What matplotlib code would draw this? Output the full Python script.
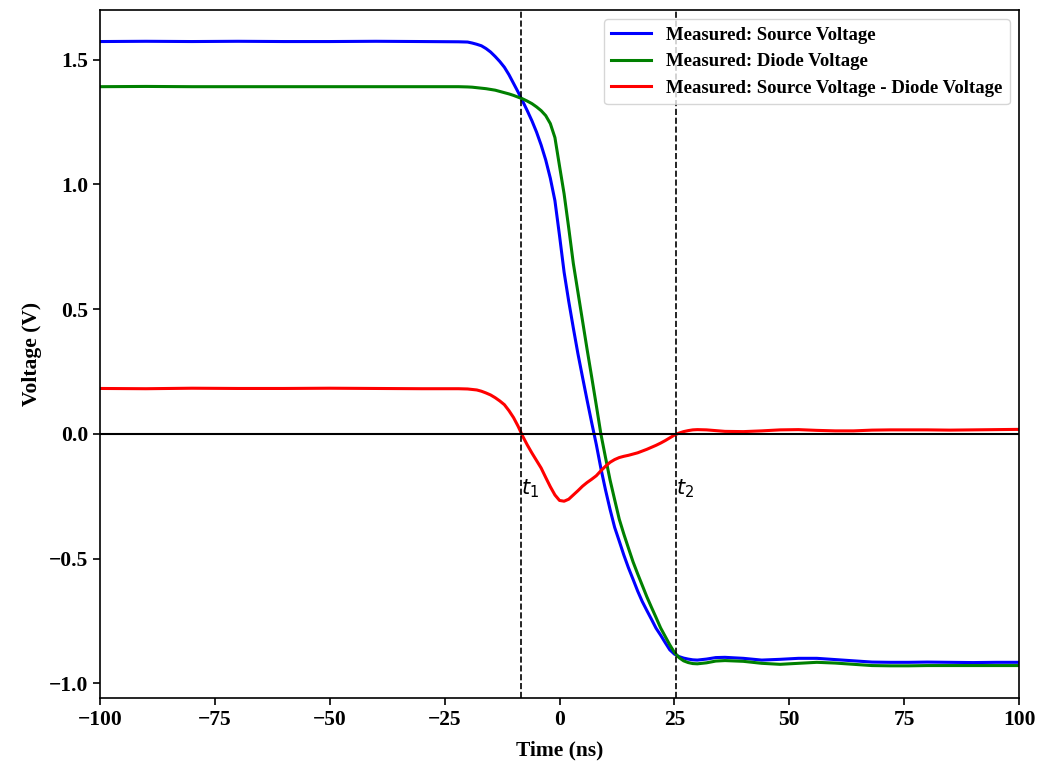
import numpy as np
import matplotlib
matplotlib.use("Agg")
import matplotlib.pyplot as plt

# Time axis (ns): coarse on the flat parts, 1 ns through the switching transient
time_ns = ([-100, -90, -80, -70, -60, -50, -40, -30, -22]
           + list(range(-20, 31))
           + [32, 34, 36, 40, 44, 48, 52, 56, 60, 64, 68, 72, 76, 80, 85, 90, 95, 100])

source_v = [1.573, 1.574, 1.573, 1.574, 1.573, 1.573, 1.574, 1.573, 1.572,
            1.571, 1.567, 1.562, 1.556, 1.545, 1.531, 1.513, 1.493, 1.470, 1.440,
            1.405, 1.370, 1.333, 1.295, 1.255, 1.210, 1.158, 1.098, 1.025, 0.935,
            0.795, 0.648, 0.532, 0.425, 0.322, 0.228, 0.135, 0.045, -0.042, -0.138,
            -0.224, -0.303, -0.375, -0.430, -0.486, -0.537, -0.583, -0.630, -0.672, -0.708,
            -0.743, -0.779, -0.807, -0.837, -0.866, -0.883, -0.893, -0.899, -0.903, -0.906,
            -0.907,
            -0.903, -0.897, -0.896, -0.900, -0.907, -0.904, -0.900, -0.900, -0.905,
            -0.910, -0.915, -0.916, -0.916, -0.915, -0.916, -0.917, -0.916, -0.916]

diode_v = [1.392, 1.393, 1.392, 1.392, 1.392, 1.392, 1.392, 1.392, 1.392,
           1.391, 1.390, 1.388, 1.386, 1.384, 1.381, 1.378, 1.373, 1.368, 1.363,
           1.357, 1.350, 1.343, 1.334, 1.324, 1.311, 1.296, 1.276, 1.244, 1.188,
           1.074, 0.962, 0.826, 0.684, 0.569, 0.454, 0.339, 0.228, 0.115, 0.000,
           -0.094, -0.185, -0.264, -0.342, -0.402, -0.458, -0.513, -0.561, -0.607, -0.653,
           -0.695, -0.736, -0.778, -0.812, -0.846, -0.876, -0.897, -0.910, -0.917, -0.921,
           -0.922,
           -0.918, -0.911, -0.909, -0.912, -0.920, -0.924, -0.920, -0.916, -0.919,
           -0.924, -0.929, -0.930, -0.930, -0.929, -0.929, -0.929, -0.929, -0.929]

diff_v = [0.182, 0.181, 0.183, 0.182, 0.182, 0.183, 0.182, 0.181, 0.181,
          0.180, 0.178, 0.176, 0.171, 0.164, 0.156, 0.145, 0.132, 0.117, 0.093,
          0.065, 0.030, -0.010, -0.045, -0.077, -0.107, -0.137, -0.175, -0.212, -0.245,
          -0.267, -0.270, -0.262, -0.245, -0.228, -0.210, -0.195, -0.182, -0.168, -0.148,
          -0.130, -0.114, -0.103, -0.095, -0.090, -0.086, -0.081, -0.076, -0.069, -0.062,
          -0.054, -0.046, -0.037, -0.027, -0.016, -0.005, 0.003, 0.009, 0.013, 0.016,
          0.017,
          0.016, 0.013, 0.010, 0.009, 0.012, 0.016, 0.017, 0.014, 0.012,
          0.012, 0.015, 0.016, 0.016, 0.016, 0.015, 0.016, 0.017, 0.018]

series_labels = ["Measured: Source Voltage", "Measured: Diode Voltage",
                 "Measured: Source Voltage - Diode Voltage"]
series_colors = ["blue", "green", "red"]

t1, t2 = -8.4, 25.3
x_ticks = [-100, -75, -50, -25, 0, 25, 50, 75, 100]
y_ticks = [-1.0, -0.5, 0.0, 0.5, 1.0, 1.5]

plt.rcParams["font.family"] = ["Liberation Serif", "DejaVu Serif"]
plt.rcParams["mathtext.fontset"] = "dejavusans"

fig = plt.figure(figsize=(10.43, 7.65), dpi=100)
ax = fig.add_axes([0.0959, 0.0876, 0.8811, 0.8995])

for ys, lab, col in zip([source_v, diode_v, diff_v], series_labels, series_colors):
    ax.plot(time_ns, ys, color=col, lw=2.2, label=lab)

ax.axhline(0, color="black", lw=1.5)
ax.axvline(t1, color="black", lw=1.2, ls="--")
ax.axvline(t2, color="black", lw=1.2, ls="--")
for tv, name in [(t1, r"$t_1$"), (t2, r"$t_2$")]:
    ax.text(tv, -0.175, name, ha="left", va="top", fontsize=15,
            family="DejaVu Sans")

ax.set_xlim(-100, 100)
ax.set_ylim(-1.059, 1.70)
ax.set_xticks(x_ticks)
ax.set_yticks(y_ticks)
ax.tick_params(labelsize=15.5, width=1.2, length=5)
for lbl in ax.get_xticklabels() + ax.get_yticklabels():
    lbl.set_fontweight("bold")
for s in ax.spines.values():
    s.set_linewidth(1.2)

ax.set_xlabel("Time (ns)", fontsize=15.5, fontweight="bold", labelpad=8)
ax.set_ylabel("Voltage (V)", fontsize=15.5, fontweight="bold", labelpad=5)

ax.legend(loc="upper right", handlelength=2.1,
          prop={"weight": "bold", "size": 13.5})

fig.savefig("out.png", dpi=100)
